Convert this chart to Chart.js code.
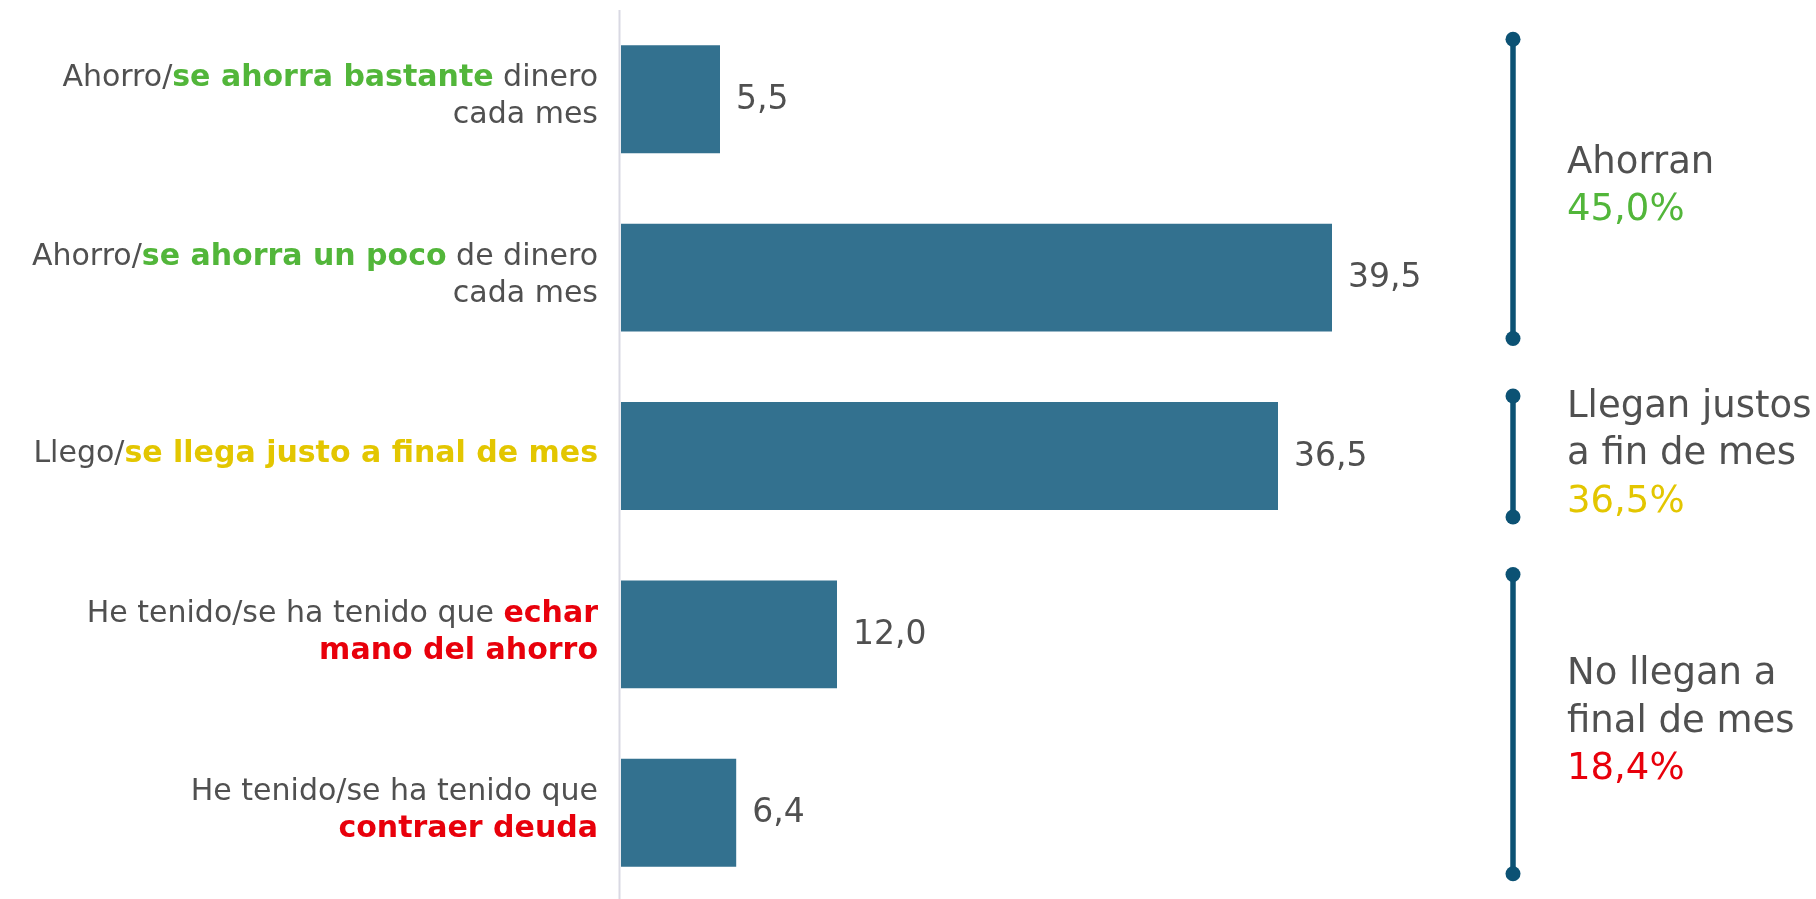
<!DOCTYPE html>
<html>
<head>
<meta charset="utf-8">
<script src="https://cdn.jsdelivr.net/npm/chart.js@4"></script>
<style>
  html, body { margin: 0; padding: 0; background: #fff; overflow: hidden; }
  #wrap { width: 1816px; height: 904px; position: relative; }
</style>
</head>
<body>
<div id="wrap"><canvas id="chart"></canvas></div>
<script>
// datos
const categories = ["bastante", "poco", "justo", "echar", "deuda"];
const values = [5.5, 39.5, 36.5, 12.0, 6.4];

// etiquetas del eje: [texto, estilo] por línea
const categoryLines = [
  [[["Ahorro/", "n"], ["se ahorra bastante", "g"], [" dinero", "n"]], [["cada mes", "n"]]],
  [[["Ahorro/", "n"], ["se ahorra un poco", "g"], [" de dinero", "n"]], [["cada mes", "n"]]],
  [[["Llego/", "n"], ["se llega justo a final de mes", "y"]]],
  [[["He tenido/se ha tenido que ", "n"], ["echar", "r"]], [["mano del ahorro", "r"]]],
  [[["He tenido/se ha tenido que", "n"]], [["contraer deuda", "r"]]]
];

// grupos de la derecha
const groupTitles = [["Ahorran"], ["Llegan justos", "a fin de mes"], ["No llegan a", "final de mes"]];
const groupFirst = [0, 2, 3];
const groupLast = [1, 2, 4];
const groupPct = [45.0, 36.5, 18.4];
const groupColor = ["g", "y", "r"];

const COLORS = { n: "#505050", g: "#52b63a", y: "#e3c600", r: "#e8000b" };
const BAR = "#33718f";
const BRACKET = "#0c5274";
const FONT = "'DejaVu Sans', sans-serif";
const LABEL_PX = 30;

const fmt = v => v.toFixed(1).replace(".", ",");

function drawRich(ctx, segs, rightX, y) {
  let total = 0;
  const widths = segs.map(([t, s]) => {
    ctx.font = (s === "n" ? "" : "bold ") + LABEL_PX + "px " + FONT;
    const w = ctx.measureText(t).width;
    total += w;
    return w;
  });
  let x = rightX - total;
  segs.forEach(([t, s], i) => {
    ctx.font = (s === "n" ? "" : "bold ") + LABEL_PX + "px " + FONT;
    ctx.fillStyle = COLORS[s];
    ctx.fillText(t, x, y);
    x += widths[i];
  });
}

const decor = {
  id: "decor",
  beforeDatasetsDraw(chart) {
    const { ctx, chartArea } = chart;
    ctx.save();
    ctx.strokeStyle = "#d9d9e3";
    ctx.lineWidth = 2;
    ctx.beginPath();
    ctx.moveTo(chartArea.left - 1.5, 10);
    ctx.lineTo(chartArea.left - 1.5, chart.height);
    ctx.stroke();
    ctx.restore();
  },
  afterDatasetsDraw(chart) {
    const { ctx, chartArea } = chart;
    const meta = chart.getDatasetMeta(0);
    ctx.save();
    ctx.textBaseline = "middle";
    ctx.textAlign = "left";

    // valores
    ctx.font = "33px " + FONT;
    ctx.fillStyle = COLORS.n;
    meta.data.forEach((bar, i) => {
      ctx.fillText(fmt(values[i]), bar.x + 16, bar.y + 1);
    });

    // etiquetas de categoría
    const lh = 37;
    meta.data.forEach((bar, i) => {
      const lines = categoryLines[i];
      const y0 = bar.y - 2 - (lines.length - 1) * lh / 2;
      lines.forEach((segs, j) => drawRich(ctx, segs, chartArea.left - 23, y0 + j * lh));
    });

    // corchetes y textos de grupo
    const bx = chartArea.right - 8;
    groupTitles.forEach((title, g) => {
      const a = meta.data[groupFirst[g]], b = meta.data[groupLast[g]];
      const top = a.y - a.height / 2 - 6;
      const bot = b.y + b.height / 2 + 7;
      ctx.strokeStyle = BRACKET;
      ctx.fillStyle = BRACKET;
      ctx.lineWidth = 5.5;
      ctx.beginPath();
      ctx.moveTo(bx, top);
      ctx.lineTo(bx, bot);
      ctx.stroke();
      [top, bot].forEach(yy => {
        ctx.beginPath();
        ctx.arc(bx, yy, 7.5, 0, Math.PI * 2);
        ctx.fill();
      });
      const lines = title.concat([fmt(groupPct[g]) + "%"]);
      const glh = 47.5;
      const mid = (top + bot) / 2 - 2;
      const y0 = mid - (lines.length - 1) * glh / 2;
      ctx.font = "37px " + FONT;
      lines.forEach((t, j) => {
        ctx.fillStyle = j === lines.length - 1 ? COLORS[groupColor[g]] : COLORS.n;
        ctx.fillText(t, chartArea.right + 46, y0 + j * glh);
      });
    });
    ctx.restore();
  }
};

new Chart(document.getElementById("chart"), {
  type: "bar",
  data: {
    labels: categories,
    datasets: [{
      data: values,
      backgroundColor: BAR,
      borderWidth: 0,
      barPercentage: 0.605,
      categoryPercentage: 1
    }]
  },
  options: {
    indexAxis: "y",
    responsive: true,
    maintainAspectRatio: false,
    animation: false,
    layout: { padding: { left: 621, right: 295, top: 10, bottom: 2 } },
    scales: {
      x: { display: false, min: 0, max: 50 },
      y: { display: false }
    },
    plugins: { legend: { display: false }, tooltip: { enabled: false } }
  },
  plugins: [decor]
});
</script>
</body>
</html>
